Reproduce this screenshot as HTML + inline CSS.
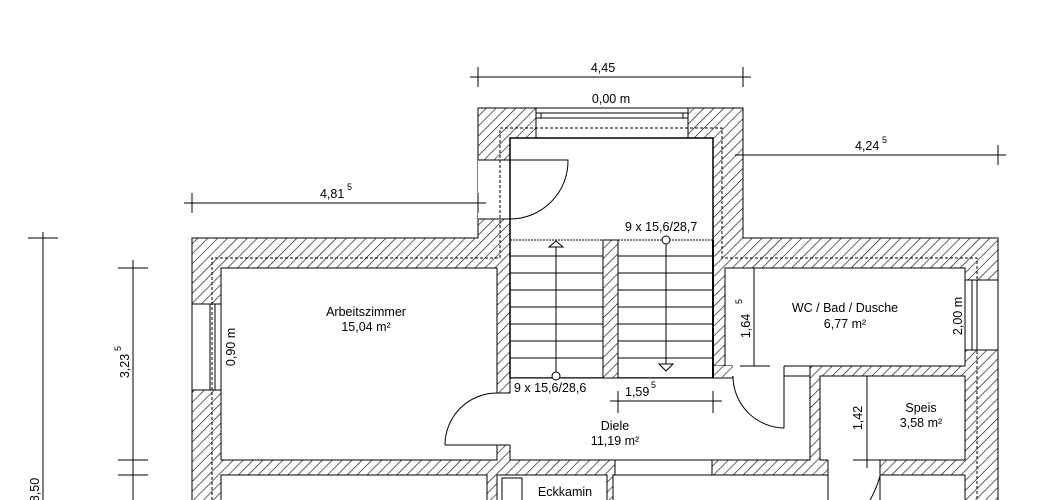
<!DOCTYPE html>
<html><head><meta charset="utf-8"><style>
html,body{margin:0;padding:0;background:#fff;}
svg{display:block;}
text{font-family:"Liberation Sans",sans-serif;font-size:12.5px;fill:#000;}
.s{font-size:9px;}
</style></head><body>
<svg width="1048" height="500" viewBox="0 0 1048 500" xmlns="http://www.w3.org/2000/svg">
<defs>
<pattern id="h" patternUnits="userSpaceOnUse" width="7" height="7" patternTransform="rotate(45)">
<rect width="7" height="7" fill="#fff"/>
<line x1="0" y1="0" x2="0" y2="7" stroke="#111" stroke-width="1.3"/>
</pattern>
</defs>
<g stroke="#000" stroke-width="1">
<path d="M478,108 H743 V238 H998 V510 H192 V238 H478 Z" fill="url(#h)"/>
<rect x="478" y="160" width="32" height="59" fill="#fff" stroke="none"/>
<line x1="478" y1="160" x2="510" y2="160"/><line x1="478" y1="219" x2="510" y2="219"/>
<rect x="536" y="108" width="152" height="30" fill="#fff"/>
<line x1="536" y1="113" x2="688" y2="113"/><line x1="536" y1="118" x2="688" y2="118"/>
<line x1="541" y1="113" x2="541" y2="118"/><line x1="683" y1="113" x2="683" y2="118"/>
<rect x="192" y="304" width="29" height="86" fill="#fff"/>
<rect x="210" y="304" width="5" height="86" fill="#fff"/>
<rect x="965" y="280" width="33" height="70" fill="#fff"/>
<rect x="972" y="280" width="5" height="70" fill="#fff"/>
<rect x="510" y="138" width="203" height="240" fill="#fff" stroke-width="1.5"/>
<rect x="221" y="268" width="276" height="192" fill="#fff"/>
<path d="M510,378 H713 V366 H810 V460 H510 Z" fill="#fff"/>
<rect x="496" y="393" width="16" height="52" fill="#fff" stroke="none"/>
<line x1="497" y1="393" x2="510" y2="393"/><line x1="497" y1="445" x2="510" y2="445"/>
<rect x="725" y="268" width="240" height="98" fill="#fff"/>
<rect x="733" y="365" width="51" height="12" fill="#fff" stroke="none"/>
<rect x="713" y="366" width="20" height="11" fill="url(#h)" stroke="none"/>
<line x1="713" y1="378" x2="733" y2="378"/>
<line x1="725" y1="366" x2="725" y2="268"/>
<line x1="784" y1="366" x2="784" y2="376"/><line x1="784" y1="376" x2="810" y2="376"/>
<rect x="820" y="376" width="145" height="84" fill="#fff"/>
<rect x="603" y="240" width="15" height="138" fill="url(#h)"/>
<line x1="510" y1="240" x2="713" y2="240" stroke-dasharray="2,1"/>
<line x1="713" y1="240" x2="713" y2="378" stroke-width="2"/>
<g stroke-width="0.9">
<line x1="510" y1="256" x2="603" y2="256"/><line x1="510" y1="273" x2="603" y2="273"/><line x1="510" y1="290" x2="603" y2="290"/><line x1="510" y1="307" x2="603" y2="307"/><line x1="510" y1="324" x2="603" y2="324"/><line x1="510" y1="341" x2="603" y2="341"/><line x1="510" y1="358" x2="603" y2="358"/>
<line x1="618" y1="256" x2="713" y2="256"/><line x1="618" y1="273" x2="713" y2="273"/><line x1="618" y1="290" x2="713" y2="290"/><line x1="618" y1="307" x2="713" y2="307"/><line x1="618" y1="324" x2="713" y2="324"/><line x1="618" y1="341" x2="713" y2="341"/><line x1="618" y1="358" x2="713" y2="358"/>
</g>
<line x1="510" y1="378" x2="713" y2="378"/>
<line x1="556" y1="247" x2="556" y2="372"/><path d="M549,247 L556,241 L563,247 Z" fill="#fff"/><circle cx="556" cy="376" r="4" fill="#fff"/>
<line x1="666" y1="244" x2="666" y2="364"/><circle cx="666" cy="240" r="4" fill="#fff"/><path d="M659,364 L666,371 L673,364 Z" fill="#fff"/>
<path d="M510,219 A58,58 0 0 0 568,160 L510,160" fill="none"/>
<path d="M445,445 A52,52 0 0 1 497,393" fill="none"/><line x1="445" y1="445" x2="497" y2="445"/>
<path d="M733,376 A52,52 0 0 0 784,428 L784,376" fill="none"/>
<rect x="615" y="460" width="97" height="15" fill="#fff"/>
<rect x="828" y="459" width="52" height="45" fill="#fff" stroke="none"/>
<line x1="828" y1="460" x2="828" y2="500"/><line x1="880" y1="460" x2="880" y2="475"/>
<path d="M880,476 Q876,490 870,500" fill="none"/>
<rect x="221" y="475" width="266" height="30" fill="#fff"/>
<rect x="497" y="475" width="110" height="30" fill="#fff"/>
<rect x="502" y="478" width="20" height="30" fill="#fff"/>
<rect x="613" y="475" width="215" height="30" fill="#fff"/>
<rect x="880" y="475" width="85" height="30" fill="#fff"/>
<path d="M212,500 V258 H500 V128 H722 V258 H977 V500" fill="none" stroke-dasharray="3,2"/>
<g stroke-width="1">
<line x1="470" y1="77" x2="751" y2="77"/><line x1="478" y1="67" x2="478" y2="87"/><line x1="743" y1="67" x2="743" y2="87"/>
<line x1="735" y1="155" x2="1006" y2="155"/><line x1="743" y1="145" x2="743" y2="165"/><line x1="998" y1="145" x2="998" y2="165"/>
<line x1="184" y1="203" x2="486" y2="203"/><line x1="192" y1="193" x2="192" y2="213"/><line x1="478" y1="193" x2="478" y2="213"/>
<line x1="133" y1="260" x2="133" y2="500"/><line x1="118" y1="268" x2="148" y2="268"/><line x1="118" y1="460" x2="148" y2="460"/><line x1="118" y1="475" x2="148" y2="475"/>
<line x1="43" y1="232" x2="43" y2="500"/><line x1="28" y1="238" x2="58" y2="238"/>
<line x1="610" y1="401" x2="722" y2="401"/><line x1="618" y1="391" x2="618" y2="413"/><line x1="713" y1="391" x2="713" y2="413"/>
<line x1="754" y1="268" x2="754" y2="366"/><line x1="740" y1="366" x2="770" y2="366"/>
<line x1="867" y1="376" x2="867" y2="468"/><line x1="853" y1="460" x2="880" y2="460"/>
</g>
</g>
<text x="603" y="72" text-anchor="middle">4,45</text>
<text x="611" y="103" text-anchor="middle">0,00 m</text>
<text x="855" y="150">4,24</text><text x="882" y="143" class="s">5</text>
<text x="320" y="198">4,81</text><text x="347" y="190" class="s">5</text>
<text x="625" y="231">9 x 15,6/28,7</text>
<text x="514" y="392">9 x 15,6/28,6</text>
<text x="625" y="396">1,59</text><text x="651" y="388" class="s">5</text>
<text x="366" y="316" text-anchor="middle">Arbeitszimmer</text>
<text x="366" y="331" text-anchor="middle">15,04 m²</text>
<text x="615" y="430" text-anchor="middle">Diele</text>
<text x="615" y="445" text-anchor="middle">11,19 m²</text>
<text x="845" y="312" text-anchor="middle">WC / Bad / Dusche</text>
<text x="845" y="328" text-anchor="middle">6,77 m²</text>
<text x="921" y="412" text-anchor="middle">Speis</text>
<text x="921" y="427" text-anchor="middle">3,58 m²</text>
<text x="565" y="496" text-anchor="middle">Eckkamin</text>
<text transform="translate(235,347) rotate(-90)" text-anchor="middle">0,90 m</text>
<text transform="translate(962,316) rotate(-90)" text-anchor="middle">2,00 m</text>
<text transform="translate(750,326) rotate(-90)" text-anchor="middle">1,64</text><text transform="translate(742,304) rotate(-90)" class="s">5</text>
<text transform="translate(862,418) rotate(-90)" text-anchor="middle">1,42</text>
<text transform="translate(129,366) rotate(-90)" text-anchor="middle">3,23</text><text transform="translate(121,351) rotate(-90)" class="s">5</text>
<text transform="translate(39,490) rotate(-90)" text-anchor="middle">8,50</text>
</svg>
</body></html>
